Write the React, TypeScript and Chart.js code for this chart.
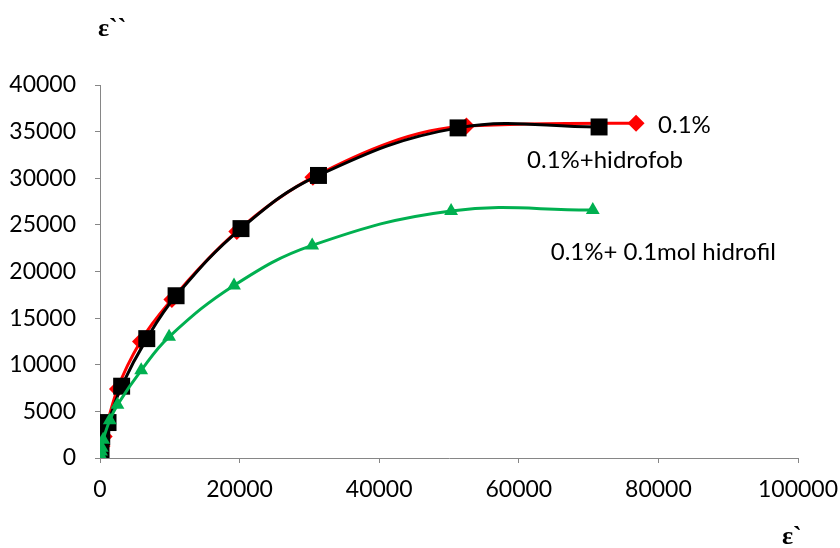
import React, { useEffect, useRef } from "react";
import { Chart, registerables } from "chart.js";

Chart.register(...registerables);

const redX = [0, 100, 300, 600, 1000, 2500, 5800, 10300, 19600, 30500, 52500, 76800];
const redY = [0, 400, 1300, 2300, 3600, 7400, 12500, 17000, 24300, 30100, 35600, 35900];

const blackX = [0, 50, 150, 250, 1150, 3100, 6700, 10900, 20200, 31300, 51300, 71500];
const blackY = [0, 500, 900, 2300, 3800, 7700, 12800, 17400, 24600, 30300, 35400, 35500];

const greenX = [0, 50, 150, 250, 450, 1400, 2500, 5900, 9900, 19200, 30400, 50300, 70600];
const greenY = [0, 300, 700, 1100, 1950, 4050, 5700, 9400, 13000, 18500, 22800, 26500, 26600];

const seriesNames = ["0.1%", "0.1%+hidrofob", "0.1%+ 0.1mol hidrofil"];
const yAxisTitle = "ε``";
const xAxisTitle = "ε`";

const xMin = 0, xMax = 100000, xStep = 20000;
const yMin = 0, yMax = 40000, yStep = 5000;

const zip = (xs: number[], ys: number[]) => xs.map((x, i) => ({ x, y: ys[i] }));

const FONT = "Lato, 'Liberation Sans', sans-serif";

const annotPlugin = {
  id: "annot",
  afterDatasetsDraw(chart: any) {
    const ctx = chart.ctx;
    ctx.save();
    ctx.fillStyle = "#000";
    ctx.font = `24px ${FONT}`;
    ctx.textBaseline = "middle";
    ctx.textAlign = "left";
    const last = (i: number) => {
      const m = chart.getDatasetMeta(i);
      return m.data[m.data.length - 1];
    };
    const r = last(0), b = last(1), g = last(2);
    ctx.fillText(seriesNames[0], r.x + 22, r.y + 2);
    ctx.fillText(seriesNames[1], b.x - 72, b.y + 33);
    ctx.fillText(seriesNames[2], g.x - 42, g.y + 42);
    // axis titles
    ctx.font = `bold 26px 'Liberation Serif', serif`;
    ctx.textBaseline = "alphabetic";
    const ca = chart.chartArea;
    ctx.fillText(yAxisTitle, ca.left - 2, 36);
    ctx.fillText(xAxisTitle, ca.right - 16, 544);
    ctx.restore();
  },
};

export default function App() {
  const ref = useRef<HTMLCanvasElement | null>(null);
  useEffect(() => {
    if (!ref.current) return;
    const axisColor = "#868686";
    const chart = new Chart(ref.current, {
      type: "line",
      data: {
        datasets: [
          {
            label: seriesNames[0],
            data: zip(redX, redY),
            borderColor: "#ff0000",
            backgroundColor: "#ff0000",
            borderWidth: 3,
            pointStyle: "rectRot",
            pointRadius: 8.5,
            pointBorderWidth: 0,
            cubicInterpolationMode: "monotone",
            order: 2,
          },
          {
            label: seriesNames[1],
            data: zip(blackX, blackY),
            borderColor: "#000000",
            backgroundColor: "#000000",
            borderWidth: 3,
            pointStyle: "rect",
            pointRadius: 12,
            pointBorderWidth: 0,
            tension: 0.4,
            order: 1,
          },
          {
            label: seriesNames[2],
            data: zip(greenX, greenY),
            borderColor: "#00b050",
            backgroundColor: "#00b050",
            borderWidth: 3,
            pointStyle: "triangle",
            pointRadius: 8,
            pointBorderWidth: 0,
            tension: 0.4,
            order: 0,
          },
        ],
      },
      options: {
        animation: false,
        responsive: false,
        layout: { padding: { top: 85, right: 42, left: 0, bottom: 0 } },
        plugins: { legend: { display: false }, tooltip: { enabled: false } },
        scales: {
          x: {
            type: "linear",
            min: xMin,
            max: xMax,
            afterFit: (s: any) => { s.height = 90; s.paddingLeft = 0; s.paddingRight = 0; },
            ticks: { stepSize: xStep, color: "#000", font: { family: FONT, size: 23 }, padding: 13, maxRotation: 0, callback: (v: any) => String(v) },
            grid: { drawOnChartArea: false, drawTicks: true, tickLength: 5, color: axisColor },
            border: { display: true, color: axisColor, width: 1 },
          },
          y: {
            type: "linear",
            min: yMin,
            max: yMax,
            afterFit: (s: any) => { s.width = 100; s.paddingTop = 0; s.paddingBottom = 0; },
            ticks: { stepSize: yStep, color: "#000", font: { family: FONT, size: 23 }, padding: 19, callback: (v: any) => String(v) },
            grid: { drawOnChartArea: false, drawTicks: true, tickLength: 5, color: axisColor },
            border: { display: true, color: axisColor, width: 1 },
          },
        },
      },
      plugins: [annotPlugin],
    } as any);
    return () => chart.destroy();
  }, []);
  return (
    <div style={{ position: "absolute", left: 0, top: 0, width: 840, height: 548, background: "#fff" }}>
      <canvas ref={ref} width={840} height={548} style={{ width: 840, height: 548 }} />
    </div>
  );
}
